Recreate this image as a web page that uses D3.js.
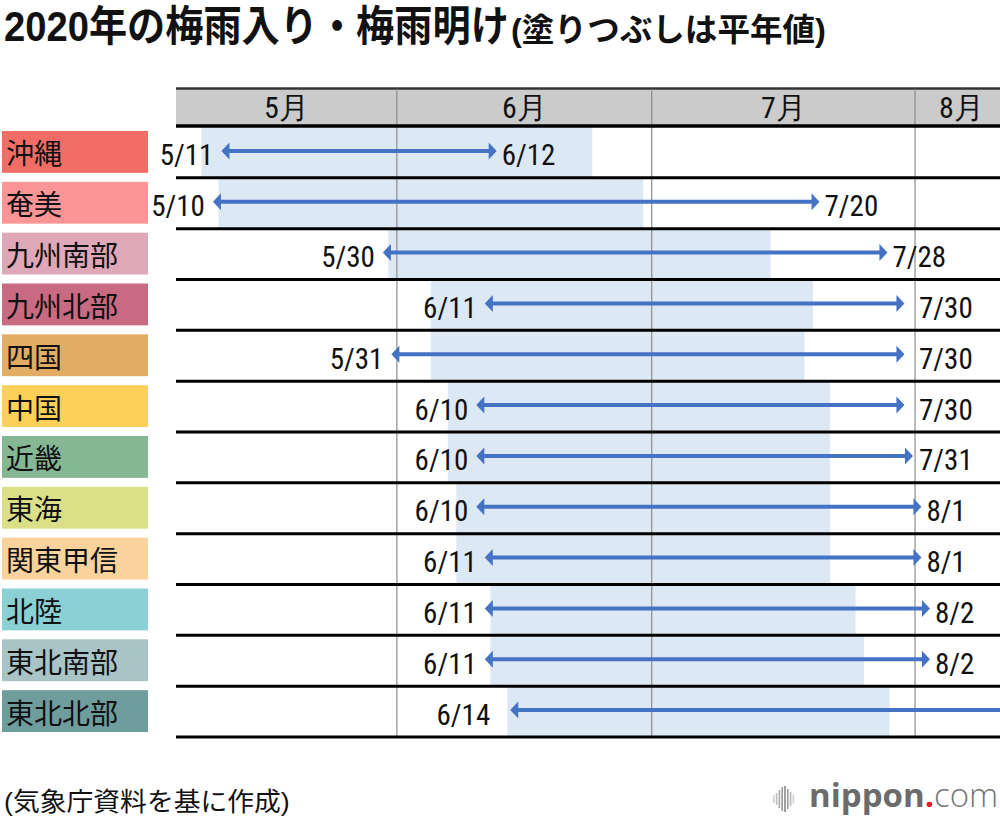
<!DOCTYPE html>
<html><head><meta charset="utf-8">
<script src="https://cdn.jsdelivr.net/npm/d3@7"></script>
<style>
body{margin:0;background:#fff;}
svg{display:block;}
</style></head><body>
<svg id="chart" width="1000" height="820"></svg>
<script>
// ---- data ----
const regions = ["沖縄","奄美","九州南部","九州北部","四国","中国","近畿","東海","関東甲信","北陸","東北南部","東北北部"];
const normalStart = ["5/9","5/11","5/31","6/5","6/5","6/7","6/7","6/8","6/8","6/12","6/12","6/14"];
const normalEnd   = ["6/23","6/29","7/14","7/19","7/18","7/21","7/21","7/21","7/21","7/24","7/25","7/28"];
const start2020   = ["5/11","5/10","5/30","6/11","5/31","6/10","6/10","6/10","6/11","6/11","6/11","6/14"];
const end2020     = ["6/12","7/20","7/28","7/30","7/30","7/30","7/31","8/1","8/1","8/2","8/2",null];
const monthLabels = ["5月","6月","7月","8月"];
const axisStart = "5/6", axisEnd = "8/11";
const year = 2020;
const titleMain = "2020年の梅雨入り・梅雨明け";
const titleSub = "(塗りつぶしは平年値)";
const sourceText = "(気象庁資料を基に作成)";

// ---- styles ----
const regionColors = ["#f26d66","#fc9696","#dfa8b9","#c86b82","#e2ac64","#fdd158","#85b793","#dbe088","#f9d39b","#8bd0d5","#a9c4c6","#6f9c9c"];
const JP = "'Noto Sans CJK JP','Noto Sans',sans-serif";
const TITLE = "'Liberation Sans','Noto Sans CJK JP',sans-serif";
const NARROW = "'Liberation Sans Narrow','Roboto Condensed','Liberation Sans',Arial,sans-serif";
const arrowColor = "#4472c4", normalColor = "#dde8f5";

const parse = d3.timeParse("%Y/%m/%d");
const pd = s => parse(year + "/" + s);

const svg = d3.select("#chart");
const x = d3.scaleTime().domain([pd(axisStart), pd(axisEnd)]).range([176, 1000]);
const y = d3.scaleBand().domain(regions).range([127, 737]);
const color = d3.scaleOrdinal().domain(regions).range(regionColors);
const dayPx = x(d3.timeDay.offset(pd("6/1"), 1)) - x(pd("6/1"));

const rows = regions.map((r, i) => ({
  r, ns: pd(normalStart[i]), ne: pd(normalEnd[i]),
  s: pd(start2020[i]), e: end2020[i] ? pd(end2020[i]) : null,
  sl: start2020[i], el: end2020[i]
}));

// helper: draw text fitted to a width by horizontal scaling
function fitText(g, str, x0, yb, w, size, weight, family) {
  const t = g.append("text").attr("x", x0).attr("y", yb)
    .attr("font-family", family).attr("font-weight", weight).attr("font-size", size).attr("fill", "#111").text(str);
  const n = t.node().getComputedTextLength();
  t.attr("transform", `translate(${x0},0) scale(${w / n},1) translate(${-x0},0)`);
  return t;
}

// header
svg.append("rect").attr("x", x.range()[0]).attr("y", 89).attr("width", x.range()[1] - x.range()[0]).attr("height", 36).attr("fill", "#cbcbcb");
svg.append("line").attr("x1", x.range()[0]).attr("x2", x.range()[1]).attr("y1", 88.5).attr("y2", 88.5).attr("stroke", "#333").attr("stroke-width", 2.5);

const months = d3.timeMonth.range(d3.timeMonth.floor(x.domain()[0]), x.domain()[1]);
svg.append("g").selectAll("text").data(months).join("text")
  .attr("x", (d, i) => {
    const a = Math.max(x(d), x.range()[0]);
    const b = Math.min(x(d3.timeMonth.offset(d, 1)), x.range()[1]);
    return (a + b) / 2 + (i === months.length - 1 ? 4 : 0);
  })
  .attr("y", 118).attr("text-anchor", "middle")
  .attr("font-family", NARROW).attr("font-size", 30).attr("fill", "#111")
  .text((d, i) => monthLabels[i]);

// normal (平年値) bars
svg.append("g").selectAll("rect").data(rows).join("rect")
  .attr("x", d => x(d.ns))
  .attr("width", d => x(d3.timeDay.offset(d.ne, 1)) - x(d.ns))
  .attr("y", d => y(d.r)).attr("height", y.bandwidth())
  .attr("fill", normalColor);

// month lines
svg.append("g").selectAll("line").data(months.filter(m => x(m) > x.range()[0])).join("line")
  .attr("x1", d => x(d)).attr("x2", d => x(d))
  .attr("y1", 89).attr("y2", 737)
  .attr("stroke", "#8c8c8c").attr("stroke-width", 1.2);

// horizontal row lines
const ys = regions.map(r => y(r)).concat([y.range()[1]]);
svg.append("g").selectAll("line").data(ys).join("line")
  .attr("x1", x.range()[0]).attr("x2", x.range()[1])
  .attr("y1", (d, i) => i === 0 ? 126 : d).attr("y2", (d, i) => i === 0 ? 126 : d)
  .attr("stroke", "#000").attr("stroke-width", (d, i) => i === 0 ? 3.5 : 3);

// region labels
const lab = svg.append("g");
lab.selectAll("rect").data(rows).join("rect")
  .attr("x", 2).attr("width", 146)
  .attr("y", d => y(d.r) + 4).attr("height", y.bandwidth() - 9)
  .attr("fill", d => color(d.r));
lab.selectAll("text").data(rows).join("text")
  .attr("x", 6).attr("y", d => y(d.r) + y.bandwidth() / 2 + 12)
  .attr("font-family", JP).attr("font-size", 28).attr("fill", "#111")
  .text(d => d.r);

// 2020 arrows
const ag = svg.append("g");
const headL = 8, headH = 8.5;
rows.forEach(d => {
  const cy = y(d.r) + y.bandwidth() / 2 - 1.5;
  const lt = x(d.s) + 0.35 * dayPx;
  const rt = d.e ? x(d.e) + 0.75 * dayPx : x.range()[1];
  ag.append("line").attr("x1", lt + headL - 1).attr("x2", d.e ? rt - headL + 1 : rt)
    .attr("y1", cy).attr("y2", cy).attr("stroke", arrowColor).attr("stroke-width", 4);
  ag.append("path").attr("d", `M${lt},${cy}L${lt + headL},${cy - headH}L${lt + headL},${cy + headH}Z`).attr("fill", arrowColor);
  if (d.e) ag.append("path").attr("d", `M${rt},${cy}L${rt - headL},${cy - headH}L${rt - headL},${cy + headH}Z`).attr("fill", arrowColor);
  const by = y(d.r) + y.bandwidth() / 2 + 13;
  ag.append("text").attr("x", d.e ? lt - 8 : lt - 20).attr("y", by).attr("text-anchor", "end")
    .attr("font-family", NARROW).attr("font-size", 29).attr("fill", "#111").text(d.sl);
  if (d.e) {
    let lx = rt + 5;
    if (lx > 898 && lx < 919) lx = 919;
    ag.append("text").attr("x", lx).attr("y", by)
      .attr("font-family", NARROW).attr("font-size", 29).attr("fill", "#111").text(d.el);
  }
});

// title
fitText(svg, titleMain, 4, 41, 505, 42, 700, TITLE);
fitText(svg, titleSub, 511, 41, 315, 32, 700, TITLE);

// source
fitText(svg, sourceText, 4, 811, 286, 26, 400, TITLE);

// logo
const logo = svg.append("g");
const barH = [8, 12, 18, 24, 26, 20, 14, 9];
const barC = ["#d0d0d0","#bdbdbd","#a8a8a8","#999","#8a8a8a","#a0a0a0","#b8b8b8","#cfcfcf"];
barH.forEach((h, i) => {
  logo.append("rect").attr("x", 773 + i * 2.8).attr("y", 799 - h / 2).attr("width", 1.6).attr("height", h).attr("fill", barC[i]);
});
const lt = logo.append("text").attr("x", 809).attr("y", 807).attr("font-family", "'Open Sans',sans-serif").attr("font-size", 33);
lt.append("tspan").attr("font-weight", 700).attr("fill", "#6b6b6b").text("nippon");
lt.append("tspan").attr("font-weight", 700).attr("fill", "#e8202a").text(".");
lt.append("tspan").attr("font-weight", 300).attr("fill", "#777").text("com");
</script>
</body></html>
